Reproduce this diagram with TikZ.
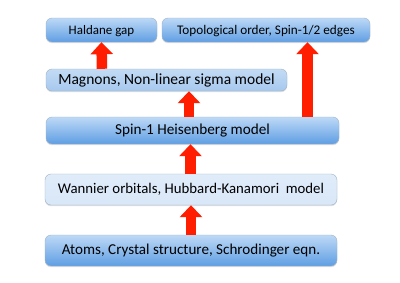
\documentclass[tikz,border=0pt]{standalone}
\usepackage{fontspec}
\setmainfont{Carlito}
\usetikzlibrary{arrows.meta,calc,shadows}
\definecolor{boxtop}{HTML}{BDD9F6}
\definecolor{boxbot}{HTML}{5F9EE3}
\definecolor{magtop}{HTML}{C3DBF4}
\definecolor{magbot}{HTML}{A6C8EE}
\definecolor{wanfill}{HTML}{D8E7F8}
\definecolor{boxline}{HTML}{9FB3C8}
\definecolor{arrred}{HTML}{FF1E00}
\tikzset{
  darkbox/.style={rounded corners=6pt, top color=boxtop, bottom color=boxbot,
    draw=boxline, line width=0.4pt, inner sep=0pt, align=center,
    text height=0.86em, text depth=0pt,
    drop shadow={shadow xshift=0pt, shadow yshift=-1.2pt, opacity=0.25}},
  lightbox/.style={darkbox, top color=magtop, bottom color=magbot},
  palebox/.style={darkbox, top color=wanfill!80!white, bottom color=wanfill},
  bigarrow/.style={line width=10.5pt, draw=arrred,
    -{Triangle[width=22pt,length=12pt,fill=arrred]}},
}
\begin{document}
\begin{tikzpicture}[x=1pt,y=-1pt]
\useasboundingbox[fill=white] (0,0) rectangle (400,282);
\node[darkbox, minimum width=111pt, minimum height=24pt, font=\fontsize{13}{15}\selectfont] (hal) at (101.5,30) {Haldane gap};
\node[darkbox, minimum width=208pt, minimum height=24pt, font=\fontsize{13.2}{15}\selectfont] (topo) at (266,30) {Topological order, Spin-1/2 edges};
\node[lightbox, minimum width=241pt, minimum height=22pt, font=\fontsize{15.5}{17}\selectfont] (mag) at (166.5,80) {Magnons, Non-linear sigma model};
\node[darkbox, minimum width=293pt, minimum height=27pt, font=\fontsize{15.2}{17}\selectfont] (heis) at (192.5,130.5) {Spin-1 Heisenberg model};
\node[palebox, minimum width=292pt, minimum height=31pt, font=\fontsize{14.8}{17}\selectfont] (wan) at (191,189.5) {Wannier orbitals, Hubbard-Kanamori\ \ model};
\node[darkbox, minimum width=292pt, minimum height=31pt, font=\fontsize{15.1}{17}\selectfont] (atoms) at (191,250.5) {Atoms, Crystal structure, Schrodinger eqn.};
\draw[bigarrow] (atoms.north) -- (wan.south);
\draw[bigarrow] ($(wan.north)+(-0.5,0)$) -- ($(heis.south)+(-2,0)$);
\draw[bigarrow] ($(heis.north)+(-3.5,0)$) -- ($(mag.south)+(22.5,0)$);
\draw[bigarrow] ($(mag.north)+(-64.5,0)$) -- (hal.south);
\draw[bigarrow] ($(heis.north)+(115,0)$) -- ($(topo.south)+(41.5,0)$);
\end{tikzpicture}
\end{document}
